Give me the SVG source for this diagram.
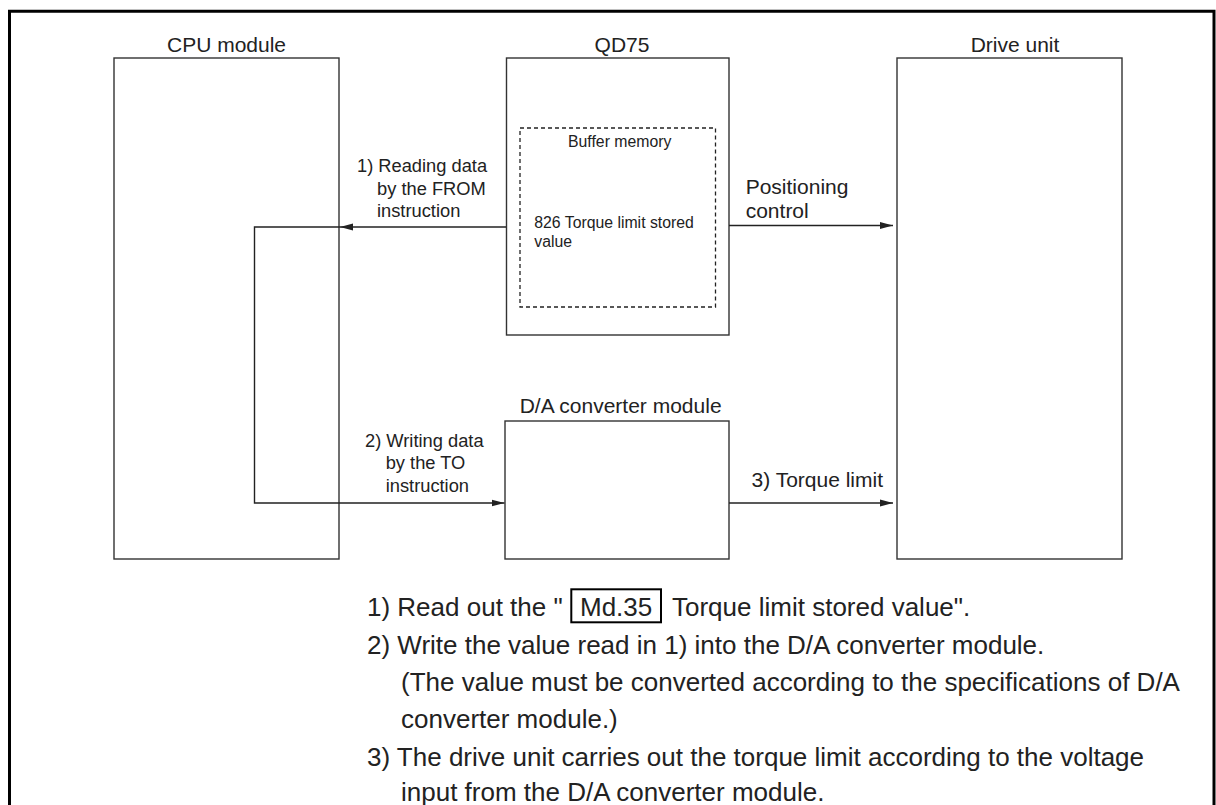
<svg xmlns="http://www.w3.org/2000/svg" width="1216" height="805" viewBox="0 0 1216 805">
<style>
text{font-family:"Liberation Sans",Arial,sans-serif;fill:#222}
.h{font-size:21px}
.m{font-size:21px}
.s{font-size:18.3px}
.b{font-size:15.8px}
.n{font-size:26px}
.box{fill:#fff;stroke:#333;stroke-width:1.4}
.dash{fill:none;stroke:#222;stroke-width:1.3;stroke-dasharray:4 3}
.con{fill:none;stroke:#222;stroke-width:1.4}
</style>
<defs>
<marker id="arr" markerUnits="userSpaceOnUse" markerWidth="14" markerHeight="8" refX="13" refY="4" orient="auto">
<path d="M0,0.5 L13,4 L0,7.5 Z" fill="#222"/>
</marker>
</defs>
<rect width="1216" height="805" fill="#fff"/>
<path d="M9.5,805 V11.3 H1214 V805" fill="none" stroke="#000" stroke-width="3"/>

<g id="cpu">
<rect class="box" x="114" y="58" width="225" height="501"/>
<text class="h" x="226.5" y="52" text-anchor="middle">CPU module</text>
</g>
<g id="qd75">
<rect class="box" x="506.5" y="58" width="222.5" height="277"/>
<text class="h" x="622" y="52" text-anchor="middle">QD75</text>
<rect class="dash" x="520" y="128" width="195.5" height="179"/>
<text class="b" x="619.7" y="147" text-anchor="middle">Buffer memory</text>
<text class="b" x="534.3" y="228">826 Torque limit stored</text>
<text class="b" x="534.3" y="247">value</text>
</g>
<g id="drive">
<rect class="box" x="897" y="58" width="225" height="501"/>
<text class="h" x="1015" y="52" text-anchor="middle">Drive unit</text>
</g>
<g id="da">
<rect class="box" x="505" y="421" width="224" height="138"/>
<text class="h" x="620.6" y="413" text-anchor="middle">D/A converter module</text>
</g>

<g id="connectors">
<path class="con" d="M506,227 H340" marker-end="url(#arr)"/>
<path class="con" d="M340,227 H254.5 V503 H504.5" marker-end="url(#arr)"/>
<path class="con" d="M729,225.5 H893" marker-end="url(#arr)"/>
<path class="con" d="M729,503 H893" marker-end="url(#arr)"/>
<text class="s" x="357" y="172.3">1) Reading data</text>
<text class="s" x="377" y="195">by the FROM</text>
<text class="s" x="377" y="217">instruction</text>
<text class="s" x="365" y="446.7">2) Writing data</text>
<text class="s" x="385.7" y="469.3">by the TO</text>
<text class="s" x="385.7" y="491.7">instruction</text>
<text class="m" x="745.7" y="194.3">Positioning</text>
<text class="m" x="745.7" y="218">control</text>
<text class="m" x="751.5" y="486.7">3) Torque limit</text>
</g>

<g id="notes">
<text class="n" x="367" y="616">1) Read out the "</text>
<rect x="571.3" y="589.3" width="89.7" height="33" fill="none" stroke="#000" stroke-width="2"/>
<text class="n" x="580" y="616">Md.35</text>
<text class="n" x="672" y="616">Torque limit stored value".</text>
<text class="n" x="367" y="653.5">2) Write the value read in 1) into the D/A converter module.</text>
<text class="n" x="401" y="691">(The value must be converted according to the specifications of D/A</text>
<text class="n" x="401" y="728">converter module.)</text>
<text class="n" x="367" y="765.5">3) The drive unit carries out the torque limit according to the voltage</text>
<text class="n" x="401" y="801">input from the D/A converter module.</text>
</g>
</svg>
